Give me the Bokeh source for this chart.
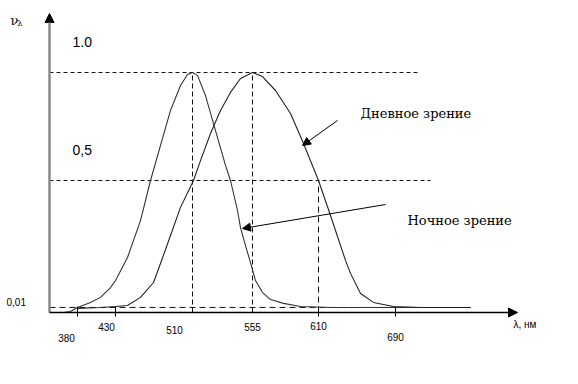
from bokeh.plotting import figure
from bokeh.models import Range1d, Arrow, NormalHead
from bokeh.core.properties import value
from bokeh.embed import file_html
from bokeh.resources import INLINE

# Hand-drawn diagram: position along the (not-to-scale) wavelength axis, relative sensitivity V(lambda)
night_pos = [63, 70, 77, 90, 100, 110, 115, 127, 140, 150, 160, 170, 180, 187, 192, 197, 205, 215,
             225, 230, 237, 240, 245, 250, 255, 262, 270, 283, 300, 330, 470]
night_v = [0.0, 0.004, 0.021, 0.042, 0.063, 0.104, 0.133, 0.229, 0.383, 0.55, 0.696, 0.842, 0.946,
           0.992, 1.0, 0.988, 0.904, 0.758, 0.613, 0.55, 0.425, 0.354, 0.279, 0.208, 0.133, 0.083,
           0.054, 0.038, 0.025, 0.021, 0.021]

day_pos = [77, 100, 115, 127, 140, 153, 160, 170, 180, 193, 200, 210, 220, 230, 240, 252, 262, 275,
           290, 303, 318, 330, 345, 350, 360, 373, 393, 420, 470]
day_v = [0.017, 0.021, 0.025, 0.029, 0.063, 0.125, 0.204, 0.321, 0.438, 0.55, 0.633, 0.746, 0.842,
         0.917, 0.975, 1.0, 0.983, 0.925, 0.829, 0.704, 0.55, 0.404, 0.217, 0.163, 0.079, 0.042,
         0.025, 0.021, 0.021]

level_values = [1.0, 0.55, 0.021]
level_labels = ["1.0", "0,5", "0,01"]
peak_pos = [192, 252]
cut_pos = 318

tick_labels = ["380", "430", "510", "555", "610", "690"]
tick_label_pos = [66, 106, 174, 252, 318, 395]
tick_mark_pos = [77, 115, 318, 395]


def Y(py):
    # pixel row of the drawing -> sensitivity units
    return (312 - py) / 240.0


p = figure(width=562, height=368, output_backend="svg", toolbar_location=None,
           x_range=Range1d(0, 562), y_range=Range1d(Y(368), Y(0)),
           x_axis_location=None, y_axis_location=None, min_border=0)
p.grid.visible = False
p.outline_line_color = None
p.background_fill_color = "white"
p.border_fill_color = "white"

ink = "#111111"

# guide lines
p.segment(x0=[49, 49], y0=level_values[:2], x1=[420, 430], y1=level_values[:2],
          line_color=ink, line_width=1, line_dash="4 3")
p.segment(x0=[49], y0=[level_values[2]], x1=[470], y1=[level_values[2]],
          line_color=ink, line_width=1, line_dash="6 4")
p.segment(x0=peak_pos, y0=[0, 0], x1=peak_pos, y1=[1.0, 1.0],
          line_color=ink, line_width=1, line_dash="5 3")
p.segment(x0=[cut_pos], y0=[0], x1=[cut_pos], y1=[level_values[1]],
          line_color=ink, line_width=1, line_dash="6 4")

# curves
p.line(night_pos, night_v, line_color="#333333", line_width=1.1)
p.line(day_pos, day_v, line_color="#222222", line_width=1.1)

# axes
p.add_layout(Arrow(end=NormalHead(size=9, fill_color="black", line_color="black"),
                   x_start=49, y_start=0, x_end=49, y_end=Y(13),
                   line_color="#8a8a8a", line_width=2.5))
p.add_layout(Arrow(end=NormalHead(size=9, fill_color="black", line_color="black"),
                   x_start=49, y_start=0, x_end=517, y_end=0,
                   line_color="black", line_width=1.5))
p.segment(x0=tick_mark_pos, y0=[Y(306)] * 4, x1=tick_mark_pos, y1=[Y(316)] * 4,
          line_color="black", line_width=1)

# pointer arrows
p.add_layout(Arrow(end=NormalHead(size=8, fill_color="black", line_color="black"),
                   x_start=337, y_start=Y(120), x_end=302, y_end=Y(145),
                   line_color="black", line_width=1))
p.add_layout(Arrow(end=NormalHead(size=8, fill_color="black", line_color="black"),
                   x_start=385, y_start=Y(204), x_end=242, y_end=Y(228),
                   line_color="black", line_width=1))

sans = value("Liberation Sans")
serif = value("DejaVu Serif")

# tick labels
tl_y = [Y(337), Y(326.5), Y(329), Y(326.5), Y(325.5), Y(336)]
p.text(x=tick_label_pos, y=tl_y, text=tick_labels, text_font=sans, text_font_size="10px",
       text_align="center", text_baseline="middle", text_color="black")
p.text(x=[513], y=[Y(324)], text=["λ, нм"], text_font=sans, text_font_size="10px",
       text_align="left", text_baseline="middle", text_color="black")

# level labels
p.text(x=[72, 72], y=[Y(41.5), Y(149)], text=level_labels[:2], text_font=sans,
       text_font_size="14px", text_align="left", text_baseline="middle", text_color="black")
p.text(x=[6], y=[Y(301.5)], text=[level_labels[2]], text_font=sans, text_font_size="10px",
       text_align="left", text_baseline="middle", text_color="black")

# y axis label  v_lambda
p.text(x=[10], y=[Y(20)], text=["ν"], text_font=serif, text_font_size="13px",
       text_align="left", text_baseline="middle", text_color="black")
p.text(x=[17], y=[Y(23)], text=["λ"], text_font=serif, text_font_size="8px",
       text_align="left", text_baseline="middle", text_color="black")

# curve names
p.text(x=[360, 407], y=[Y(113), Y(220)], text=["Дневное зрение", "Ночное зрение"],
       text_font=serif, text_font_size="13px", text_align="left", text_baseline="middle",
       text_color="black")

open("out.html", "w").write(file_html(p, INLINE))
